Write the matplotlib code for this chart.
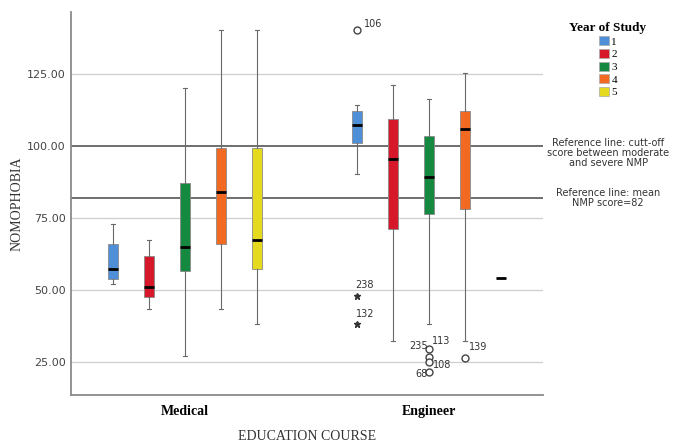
import matplotlib
matplotlib.use("Agg")
from matplotlib import pyplot as plt
from matplotlib.patches import Patch

# Box statistics (Medical, then Engineer), years 1..5
courses = ["Medical", "Engineer"]
years = ["1", "2", "3", "4", "5"]
year_colors = ["#4F8FD8", "#D7182A", "#15893F", "#F26A21", "#E6DA1E"]

medical_med = [57.2, 51.1, 65.0, 84.0, 67.3]
medical_q1 = [53.8, 47.7, 56.6, 66.1, 57.2]
medical_q3 = [66.1, 61.6, 87.2, 99.2, 99.2]
medical_lo = [52.2, 43.2, 27.2, 43.2, 38.3]
medical_hi = [73.0, 67.3, 120.0, 140.2, 140.2]

engineer_med = [107.2, 95.6, 89.1, 105.7, 54.1]
engineer_q1 = [101.1, 71.2, 76.3, 78.1, 54.1]
engineer_q3 = [112.2, 109.3, 103.6, 112.2, 54.1]
engineer_lo = [90.3, 32.3, 38.1, 32.3, 54.1]
engineer_hi = [114.1, 121.1, 116.2, 125.2, 54.1]

# outliers: (course index, year index, value, case label)
circle_outliers = [(1, 0, 140.3, "106"), (1, 2, 29.4, "235"), (1, 2, 26.6, "113"),
                   (1, 2, 24.9, "108"), (1, 2, 21.6, "68"), (1, 3, 26.3, "139")]
star_outliers = [(1, 0, 47.9, "238"), (1, 0, 38.1, "132")]

ref_cutoff = 100
ref_mean = 82
y_ticks = [25, 50, 75, 100, 125]

offset = 0.1475
box_w = 0.042


def pos(c, y):
    return c + (y - 2) * offset


stats = []
positions = []
box_colors = []
for c, (med, q1, q3, lo, hi) in enumerate([
        (medical_med, medical_q1, medical_q3, medical_lo, medical_hi),
        (engineer_med, engineer_q1, engineer_q3, engineer_lo, engineer_hi)]):
    for y in range(len(years)):
        stats.append({"med": med[y], "q1": q1[y], "q3": q3[y],
                      "whislo": lo[y], "whishi": hi[y], "fliers": []})
        positions.append(pos(c, y))
        box_colors.append(year_colors[y])

fig = plt.figure(figsize=(6.83, 4.42), dpi=100)
ax = fig.add_axes([71 / 683, 1 - 395 / 442, 472 / 683, 383 / 442])

# grid + reference lines
for t in [25, 50, 75, 125]:
    ax.axhline(t, color="#cfcfcf", lw=0.9, zorder=0)
ax.axhline(ref_cutoff, color="#555555", lw=1.2, zorder=1)
ax.axhline(ref_mean, color="#555555", lw=1.2, zorder=1)

bp = ax.bxp(stats, positions=positions, widths=box_w, patch_artist=True,
            showfliers=False, capwidths=0.018,
            boxprops=dict(edgecolor="#8a8a8a", linewidth=0.6),
            whiskerprops=dict(color="#6a6a6a", linewidth=0.8),
            capprops=dict(color="#6a6a6a", linewidth=0.8),
            medianprops=dict(color="black", linewidth=2.0))
for patch, col in zip(bp["boxes"], box_colors):
    patch.set_facecolor(col)
    patch.set_zorder(2)

# outliers and case labels
label_offsets = {"106": (5, 4, "left"), "235": (-1, 2, "right"), "113": (2, 12, "left"),
                 "108": (3, -2, "left"), "68": (-1, -2, "right"), "139": (3, 8, "left"),
                 "238": (-1, 4, "left"), "132": (-1, 4, "left")}
for c, y, v, lab in circle_outliers:
    x = pos(c, y)
    ax.plot(x, v, marker="o", ms=5, mfc="white", mec="#444444", mew=1.0, ls="none", zorder=3)
    dx, dy, ha = label_offsets[lab]
    ax.annotate(lab, (x, v), xytext=(dx, dy), textcoords="offset points",
                fontsize=7, color="#333333", ha=ha, va="center")
for c, y, v, lab in star_outliers:
    x = pos(c, y)
    ax.plot(x, v, marker="*", ms=5, color="#333333", ls="none", zorder=3)
    dx, dy, ha = label_offsets[lab]
    ax.annotate(lab, (x, v), xytext=(dx, dy), textcoords="offset points",
                fontsize=7, color="#333333", ha=ha, va="bottom")

ax.set_xlim(-0.467, 1.467)
ax.set_ylim(13.5, 146.5)
ax.set_yticks(y_ticks)
ax.set_yticklabels(["%.2f" % t for t in y_ticks], fontsize=8, color="#444444")
ax.set_xticks([0, 1])
ax.set_xticklabels(courses, fontsize=10, fontweight="bold", family="Liberation Serif")
ax.tick_params(length=0)
ax.tick_params(axis="x", pad=7)
ax.tick_params(axis="y", pad=4)

for s in ["top", "right"]:
    ax.spines[s].set_visible(False)
for s in ["left", "bottom"]:
    ax.spines[s].set_color("#8a8a8a")
    ax.spines[s].set_linewidth(1.3)

ax.set_ylabel("NOMOPHOBIA", fontsize=10, family="Liberation Serif", color="#333333", labelpad=2)
ax.set_xlabel("EDUCATION COURSE", fontsize=10, family="Liberation Serif", color="#333333", labelpad=9)

# reference line notes
ax.annotate("Reference line: cutt-off\nscore between moderate\nand severe NMP",
            (1.138, ref_cutoff - 2.6), xycoords=("axes fraction", "data"),
            ha="center", va="center", fontsize=7, color="#333333", linespacing=1.0,
            annotation_clip=False)
ax.annotate("Reference line: mean\nNMP score=82",
            (1.138, ref_mean), xycoords=("axes fraction", "data"),
            ha="center", va="center", fontsize=7, color="#333333", linespacing=1.0,
            annotation_clip=False)

handles = [Patch(facecolor=c, edgecolor="#aaaaaa", linewidth=0.5) for c in year_colors]
leg = fig.legend(handles, years, loc="upper center", bbox_to_anchor=(608 / 683, 1 - 12 / 442),
                 frameon=False, title="Year of Study", handlelength=0.9, handleheight=0.9,
                 handletextpad=0.2, labelspacing=0.2,
                 prop={"family": "Liberation Serif", "size": 8})
leg.get_title().set_fontweight("bold")
leg.get_title().set_family("Liberation Serif")
leg.get_title().set_fontsize(9.5)

fig.savefig("out.png", dpi=100)
